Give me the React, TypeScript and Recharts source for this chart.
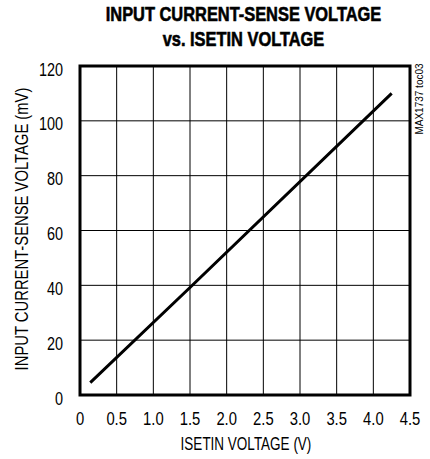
import React from "react";
import {
  LineChart,
  Line,
  XAxis,
  YAxis,
  CartesianGrid,
  ReferenceArea,
} from "recharts";

const isetinVolts = [0.14, 1.5, 4.25];
const senseMillivolts = [4.5, 39.2, 110.0];

const xTicks = [0, 0.5, 1, 1.5, 2, 2.5, 3, 3.5, 4, 4.5];
const xTickLabels = ["0", "0.5", "1.0", "1.5", "2.0", "2.5", "3.0", "3.5", "4.0", "4.5"];
const yTicks = [0, 20, 40, 60, 80, 100, 120];
const yTickLabels = ["0", "20", "40", "60", "80", "100", "120"];

const titleLines = ["INPUT CURRENT-SENSE VOLTAGE", "vs. ISETIN VOLTAGE"];
const xAxisTitle = "ISETIN VOLTAGE (V)";
const yAxisTitle = "INPUT CURRENT-SENSE VOLTAGE (mV)";
const figureTag = "MAX1737 toc03";

const data = isetinVolts.map((x, i) => ({ x, v: senseMillivolts[i] }));

const FONT = "'Liberation Sans', Arial, Helvetica, sans-serif";

const XTick = (props: any) => {
  const { x, y, payload } = props;
  const label = xTickLabels[xTicks.indexOf(payload.value)] ?? String(payload.value);
  return (
    <g transform={`translate(${x},${y + 30}) scale(0.8,1)`}>
      <text x={0} y={0} textAnchor="middle" fontSize={18.5} fontFamily={FONT} fill="#000">
        {label}
      </text>
    </g>
  );
};

const YTick = (props: any) => {
  const { x, y, payload } = props;
  const label = yTickLabels[yTicks.indexOf(payload.value)] ?? String(payload.value);
  return (
    <g transform={`translate(${x - 17},${y + 9.5}) scale(0.78,1)`}>
      <text x={0} y={0} textAnchor="end" fontSize={18.5} fontFamily={FONT} fill="#000">
        {label}
      </text>
    </g>
  );
};

const XLabel = (props: any) => {
  const vb = props.viewBox || {};
  const cx = vb.x + vb.width / 2 + 1;
  return (
    <g transform={`translate(${cx},450) scale(0.73,1)`}>
      <text x={0} y={0} textAnchor="middle" fontSize={18.5} fontFamily={FONT} fill="#000">
        {xAxisTitle}
      </text>
    </g>
  );
};

const YLabel = (props: any) => {
  const vb = props.viewBox || {};
  const cy = vb.y + vb.height / 2 - 1.5;
  return (
    <g transform={`translate(28,${cy}) rotate(-90) scale(0.8,1)`}>
      <text x={0} y={0} textAnchor="middle" fontSize={18.5} fontFamily={FONT} fill="#000">
        {yAxisTitle}
      </text>
    </g>
  );
};

export default function App() {
  return (
    <div
      style={{
        position: "absolute",
        left: 0,
        top: 0,
        width: 430,
        height: 459,
        background: "#fff",
      }}
    >
      <div
        style={{
          position: "absolute",
          left: 0,
          top: 1.5,
          width: 487,
          textAlign: "center",
          fontFamily: FONT,
          fontWeight: 700,
          fontSize: 20,
          lineHeight: "25px",
          color: "#000",
          whiteSpace: "nowrap",
          transform: "scaleX(0.82)",
          transformOrigin: "243.5px 0px",
          WebkitTextStroke: "0.6px #000",
        }}
      >
        <div>{titleLines[0]}</div>
        <div>{titleLines[1]}</div>
      </div>
      <div
        style={{
          position: "absolute",
          left: 419,
          top: 99,
          transform: "translate(-50%, -50%) rotate(-90deg)",
          fontFamily: FONT,
          fontSize: 10,
          color: "#000",
          whiteSpace: "nowrap",
        }}
      >
        {figureTag}
      </div>
      <div style={{ position: "absolute", left: 0, top: 0 }}>
        <LineChart
          width={430}
          height={459}
          data={data}
          margin={{ top: 66, right: 20, bottom: 24, left: 20 }}
        >
          <CartesianGrid
            stroke="#000"
            strokeWidth={1}
            horizontalValues={yTicks}
            verticalValues={xTicks}
          />
          <XAxis
            dataKey="x"
            type="number"
            domain={[0, 4.5]}
            ticks={xTicks}
            interval={0}
            height={40}
            axisLine={false}
            tickLine={false}
            tickSize={0}
            tickMargin={0}
            tick={<XTick />}
            label={<XLabel />}
            allowDataOverflow
          />
          <YAxis
            type="number"
            domain={[0, 120]}
            ticks={yTicks}
            interval={0}
            width={60}
            axisLine={false}
            tickLine={false}
            tickSize={0}
            tickMargin={0}
            tick={<YTick />}
            label={<YLabel />}
            allowDataOverflow
          />
          <ReferenceArea
            x1={0}
            x2={4.5}
            y1={0}
            y2={120}
            fill="none"
            fillOpacity={0}
            stroke="#000"
            strokeWidth={3}
            ifOverflow="visible"
          />
          <Line
            type="linear"
            dataKey="v"
            stroke="#000"
            strokeWidth={3}
            dot={false}
            isAnimationActive={false}
          />
        </LineChart>
      </div>
    </div>
  );
}
